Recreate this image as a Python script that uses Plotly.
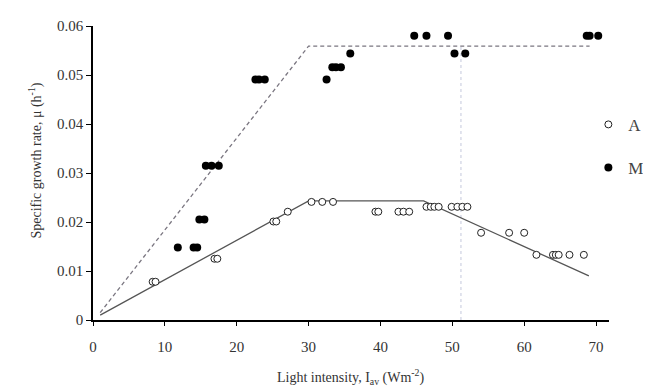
import plotly.graph_objects as go

A_x = [8.3, 8.7, 16.9, 17.3, 25.1, 25.5, 27.1, 30.4, 31.9, 33.4, 39.3, 39.7,
       42.5, 43.2, 44.0, 46.4, 47.0, 47.5, 48.1, 49.9, 50.7, 51.4, 52.1,
       54.0, 57.9, 60.0, 61.7, 64.0, 64.4, 64.8, 66.3, 68.3]
A_y = [0.0078, 0.0078, 0.0125, 0.0125, 0.0201, 0.0201, 0.0221, 0.0241, 0.0241, 0.0241,
       0.0221, 0.0221, 0.0221, 0.0221, 0.0221, 0.0231, 0.0231, 0.0231, 0.0231,
       0.0231, 0.0231, 0.0231, 0.0231, 0.0178, 0.0178, 0.0178,
       0.0133, 0.0133, 0.0133, 0.0133, 0.0133, 0.0133]

M_x = [11.8, 14.0, 14.5, 14.8, 15.5, 15.7, 16.5, 17.5, 22.6, 23.1, 23.9, 32.5,
       33.3, 33.8, 34.5, 35.8, 44.7, 46.4, 49.4, 50.3, 51.8, 68.7, 69.1, 70.3]
M_y = [0.0148, 0.0148, 0.0148, 0.0205, 0.0205, 0.0315, 0.0315, 0.0315, 0.0491, 0.0491,
       0.0491, 0.0491, 0.0516, 0.0516, 0.0516, 0.0544, 0.058, 0.058, 0.058, 0.0544,
       0.0544, 0.058, 0.058, 0.058]

# Model lines
A_model_x = [1, 30, 46, 69]
A_model_y = [0.001, 0.0243, 0.0243, 0.0090]
M_model_x = [1, 30, 69.1]
M_model_y = [0.0015, 0.0559, 0.0559]
V_line_x = [51.2, 51.2]
V_line_y = [0, 0.0559]

x_ticks = [0, 10, 20, 30, 40, 50, 60, 70]
y_ticks = [0, 0.01, 0.02, 0.03, 0.04, 0.05, 0.06]
y_tick_text = ["0", "0.01", "0.02", "0.03", "0.04", "0.05", "0.06"]

FONT = "Liberation Serif, Times New Roman, serif"

fig = go.Figure()
fig.add_trace(go.Scatter(x=V_line_x, y=V_line_y, mode="lines", showlegend=False,
                         line=dict(color="#c4c8dc", width=1, dash="dot")))
fig.add_trace(go.Scatter(x=M_model_x, y=M_model_y, mode="lines", showlegend=False,
                         line=dict(color="#7a7680", width=1.3, dash="4px,3px")))
fig.add_trace(go.Scatter(x=A_model_x, y=A_model_y, mode="lines", showlegend=False,
                         line=dict(color="#555555", width=1.3)))
fig.add_trace(go.Scatter(x=A_x, y=A_y, mode="markers", name="A", legendgroup="A",
                         marker=dict(symbol="circle", size=7, color="white",
                                     line=dict(color="#222222", width=1)),
                         cliponaxis=False))
fig.add_trace(go.Scatter(x=M_x, y=M_y, mode="markers", name="M", legendgroup="M",
                         marker=dict(symbol="circle", size=8, color="black",
                                     line=dict(color="black", width=0)),
                         cliponaxis=False))

fig.update_layout(
    width=651, height=387,
    margin=dict(l=85, r=31, t=10, b=75),
    paper_bgcolor="white", plot_bgcolor="white",
    font=dict(family=FONT, size=15, color="#333333"),
    showlegend=True,
    legend=dict(x=0.96, y=0.725, xanchor="left", yanchor="top",
                bgcolor="rgba(0,0,0,0)", font=dict(family=FONT, size=17, color="#444444"),
                itemwidth=30, traceorder="grouped", tracegroupgap=18),
    xaxis=dict(range=[0, 71.8], tickmode="array", tickvals=x_ticks,
               showline=True, linecolor="black", linewidth=1.5, mirror=False,
               ticks="outside", ticklen=4, tickwidth=1.2, tickcolor="black",
               showgrid=False, zeroline=False, ticklabelstandoff=8,
               tickfont=dict(family=FONT, size=15, color="#333333")),
    yaxis=dict(range=[0, 0.06], tickmode="array", tickvals=y_ticks, ticktext=y_tick_text,
               showline=True, linecolor="black", linewidth=1.5,
               ticks="outside", ticklen=5, tickwidth=1.2, tickcolor="black",
               showgrid=False, zeroline=False,
               tickfont=dict(family=FONT, size=15, color="#333333")),
    annotations=[
        dict(text="Light intensity, I<sub>av</sub> (Wm<sup>-2</sup>)", xref="paper", yref="paper",
             x=0.5, y=-0.195, xanchor="center", yanchor="middle", showarrow=False,
             font=dict(family=FONT, size=14, color="#333333")),
        dict(text="Specific growth rate, μ (h<sup>-1</sup>)", xref="paper", yref="paper",
             x=-0.112, y=0.543, xanchor="center", yanchor="middle", showarrow=False,
             textangle=-90, font=dict(family=FONT, size=14, color="#333333")),
    ],
)

fig.write_html("out.html")
